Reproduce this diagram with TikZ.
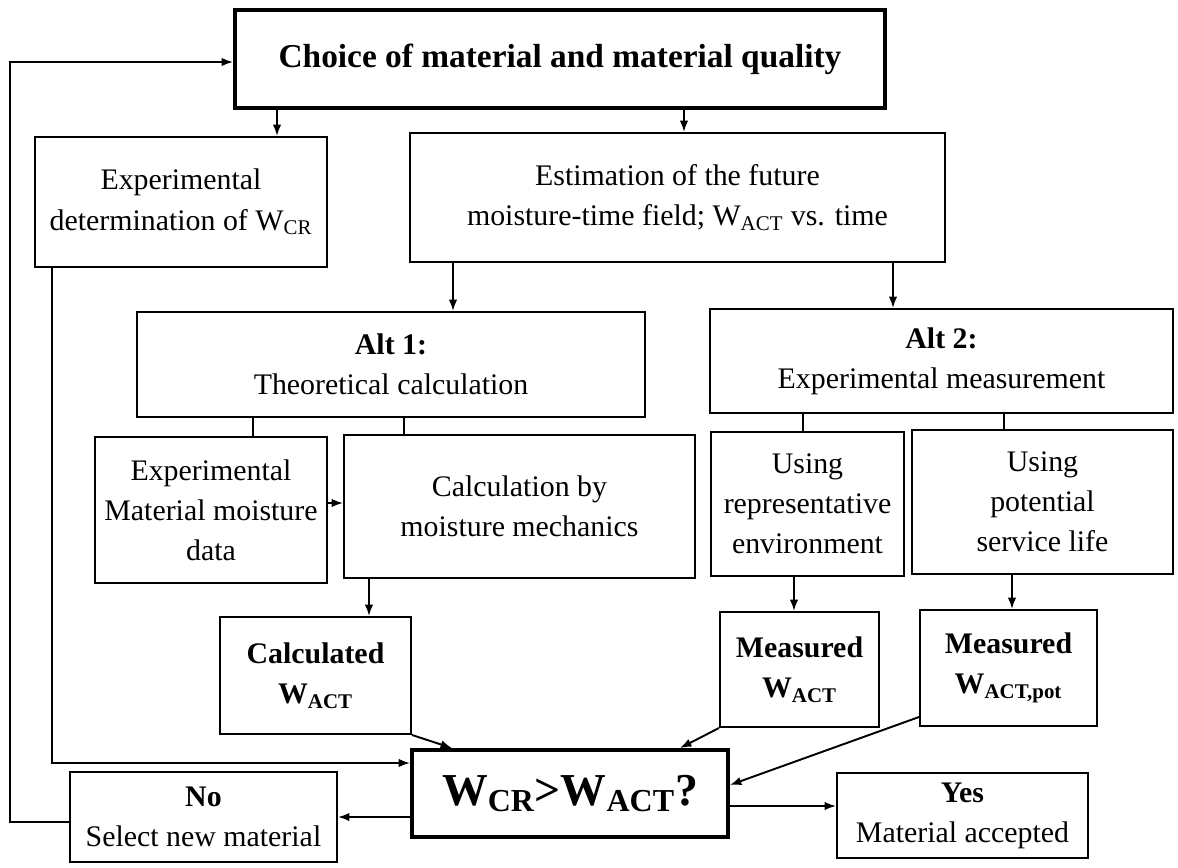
\documentclass[tikz,border=0pt]{standalone}
\usepackage{fontspec}
\setmainfont{Liberation Serif}
\usetikzlibrary{arrows.meta}
\newcommand{\wsub}[1]{W\textsubscript{#1}}

\begin{document}
\begin{tikzpicture}[x=0.02cm,y=-0.02cm,line width=1.1pt,
  box/.style={draw,line width=1.1pt,align=center,inner sep=0pt,font=\fontsize{17}{22.8}\selectfont},
  thickbox/.style={box,line width=2.2pt},
  arr/.style={-{Latex[length=6.5pt,width=4.8pt]}}]
\useasboundingbox (0,0) rectangle (1178,867);

\node[thickbox,minimum width=13cm,minimum height=1.96cm,font=\fontsize{19}{23}\selectfont\bfseries] (choice) at (560,59) {Choice of material and material quality};
\node[box,minimum width=5.84cm,minimum height=2.6cm] (exp_cr) at (181,202) {Experimental\\determination of \wsub{CR}};
\node[box,minimum width=10.7cm,minimum height=2.58cm] (estimation) at (677.5,197.5) {Estimation of the future\\moisture-time field; \wsub{ACT} vs. time};
\node[box,minimum width=10.16cm,minimum height=2.1cm] (alt_one) at (391,364.5) {\textbf{Alt 1:}\\Theoretical calculation};
\node[box,minimum width=9.26cm,minimum height=2.08cm] (alt_two) at (941.5,361) {\textbf{Alt 2:}\\Experimental measurement};
\node[box,minimum width=4.64cm,minimum height=2.92cm] (exp_data) at (211,510) {Experimental\\Material moisture\\data};
\node[box,minimum width=7.02cm,minimum height=2.86cm] (calc) at (519.5,506.5) {Calculation by\\moisture mechanics};
\node[box,minimum width=3.86cm,minimum height=2.88cm] (env) at (807.5,504) {Using\\representative\\environment};
\node[box,minimum width=5.22cm,minimum height=2.88cm] (life) at (1042.5,502) {Using\\potential\\service life};
\node[box,minimum width=3.82cm,minimum height=2.34cm,font=\fontsize{17}{22.8}\selectfont\bfseries] (calc_w) at (315.5,675.5) {Calculated\\\wsub{ACT}};
\node[box,minimum width=3.18cm,minimum height=2.3cm,font=\fontsize{17}{22.8}\selectfont\bfseries] (meas_w) at (799.5,669.5) {Measured\\\wsub{ACT}};
\node[box,minimum width=3.54cm,minimum height=2.32cm,font=\fontsize{17}{22.8}\selectfont\bfseries] (meas_pot) at (1008.5,668) {Measured\\\wsub{ACT,pot}};
\node[thickbox,minimum width=6.32cm,minimum height=1.74cm,font=\fontsize{26}{30}\selectfont\bfseries] (decision) at (570,793.5) {\wsub{CR}>\wsub{ACT}?};
\node[box,minimum width=5.34cm,minimum height=1.8cm] (no) at (203.5,817) {\textbf{No}\\Select new material};
\node[box,minimum width=5.02cm,minimum height=1.7cm] (yes) at (962.5,815.5) {\textbf{Yes}\\Material accepted};

\draw[arr] (277,0 |- choice.south) -- (277,0 |- exp_cr.north);
\draw[arr] (684,0 |- choice.south) -- (684,0 |- estimation.north);
\draw[arr] (453,0 |- estimation.south) -- (453,0 |- alt_one.north);
\draw[arr] (893,0 |- estimation.south) -- (893,0 |- alt_two.north);
\draw (253,0 |- alt_one.south) -- (253,0 |- exp_data.north);
\draw (404,0 |- alt_one.south) -- (404,0 |- calc.north);
\draw (803,0 |- alt_two.south) -- (803,0 |- env.north);
\draw (1004,0 |- alt_two.south) -- (1004,0 |- life.north);
\draw[arr] (exp_data.east |- 0,503) -- (calc.west |- 0,503);
\draw[arr] (369,0 |- calc.south) -- (369,0 |- calc_w.north);
\draw[arr] (794,0 |- env.south) -- (794,0 |- meas_w.north);
\draw[arr] (1012,0 |- life.south) -- (1012,0 |- meas_pot.north);
\draw[arr] (calc_w.south east) -- (452,0 |- decision.north);
\draw[arr] (meas_w.south west) -- (680,0 |- decision.north);
\draw[arr] (meas_pot.west |- 0,717) -- (decision.east |- 0,785);
\draw[arr] (52,0 |- exp_cr.south) |- (decision.west |- 0,763);
\draw[arr] (decision.west |- 0,817) -- (no.east |- 0,817);
\draw[arr] (decision.east |- 0,806) -- (yes.west |- 0,806);
\coordinate (loop) at (10,62);
\draw[arr] (no.west |- 0,822) -| (loop) -- (loop -| choice.west);
\end{tikzpicture}
\end{document}
